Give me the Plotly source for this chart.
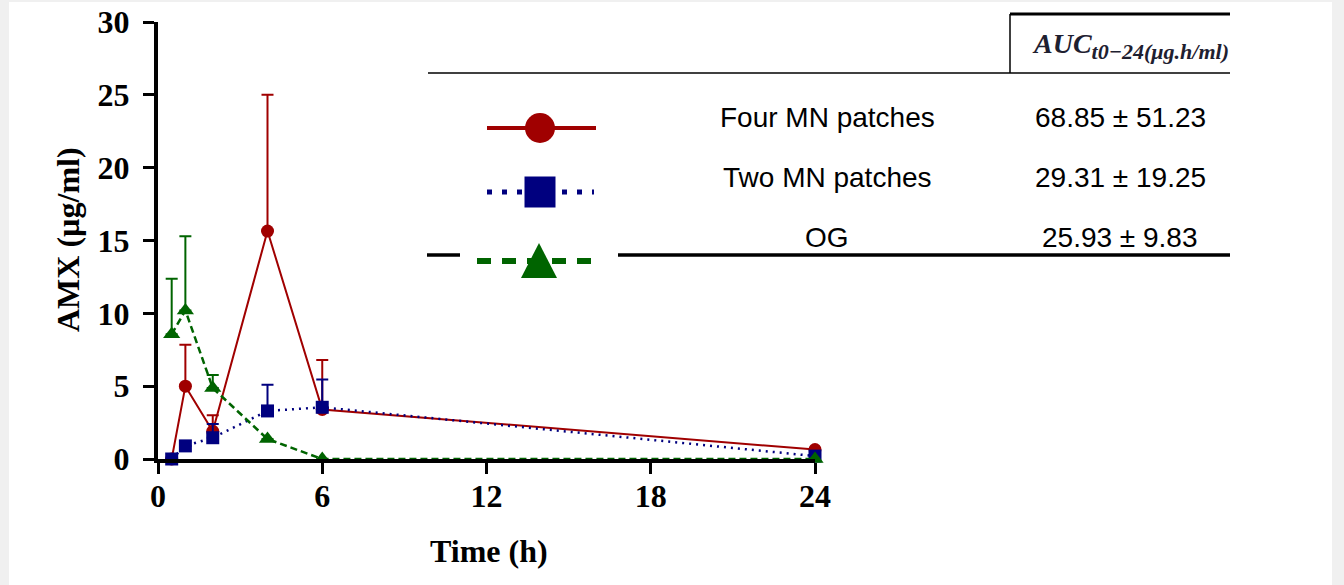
import plotly.graph_objects as go

# ---------------- data ----------------
time_h = [0.5, 1, 2, 4, 6, 24]

four_mn_mean = [0.0, 5.0, 1.9, 15.65, 3.4, 0.65]
four_mn_err = [0.0, 2.85, 1.1, 9.35, 3.4, 0.0]

two_mn_mean = [0.0, 0.9, 1.46, 3.3, 3.55, 0.2]
two_mn_err = [0.0, 0.0, 0.95, 1.8, 1.9, 0.0]

og_mean = [8.57, 10.2, 4.87, 1.37, 0.0, 0.0]
og_err = [3.8, 5.1, 0.9, 0.0, 0.0, 0.0]

x_ticks = [0, 6, 12, 18, 24]
y_ticks = [0, 5, 10, 15, 20, 25, 30]

group_names = ["Four MN patches", "Two MN patches", "OG"]
auc_values = ["68.85 ± 51.23", "29.31 ± 19.25", "25.93 ± 9.83"]
auc_header = ("<b><i>AUC</i></b><sub><span style=\"font-size:22px\"><b><i>t0−24(μg.h/ml)"
              "</i></b></span></sub>")

RED = "#a00000"
BLUE = "#00007f"
GREEN = "#006400"

W, H = 1344, 585
# plot area in pixels
PX_L, PX_R, PX_T, PX_B = 158, 815, 22, 459

SERIF = "Liberation Serif"
SANS = "Liberation Sans"

fig = go.Figure()

def err(arr):
    return dict(type="data", array=arr, arrayminus=[0] * len(arr), symmetric=False,
                thickness=2, width=6)

fig.add_trace(go.Scatter(
    x=time_h, y=four_mn_mean, mode="lines+markers", name=group_names[0],
    line=dict(color=RED, width=2),
    marker=dict(symbol="circle", size=13, color=RED),
    error_y={**err(four_mn_err), "color": RED},
    cliponaxis=False, showlegend=False))

fig.add_trace(go.Scatter(
    x=time_h, y=two_mn_mean, mode="lines+markers", name=group_names[1],
    line=dict(color=BLUE, width=2.5, dash="2px,5px"),
    marker=dict(symbol="square", size=13, color=BLUE),
    error_y={**err(two_mn_err), "color": BLUE},
    cliponaxis=False, showlegend=False))

fig.add_trace(go.Scatter(
    x=time_h, y=og_mean, mode="lines+markers", name=group_names[2],
    line=dict(color=GREEN, width=2.5, dash="7px,4px"),
    marker=dict(symbol="triangle-up", size=15, color=GREEN),
    error_y={**err(og_err), "color": GREEN},
    cliponaxis=False, showlegend=False))

# ---------- table legend symbols (pixel overlay axes x2/y2) ----------
leg_rows_y = [128, 192, 261]
fig.add_trace(go.Scatter(x=[487, 596], y=[leg_rows_y[0]] * 2, mode="lines",
                         line=dict(color=RED, width=4), xaxis="x2", yaxis="y2",
                         showlegend=False, hoverinfo="skip"))
fig.add_trace(go.Scatter(x=[540], y=[leg_rows_y[0]], mode="markers",
                         marker=dict(symbol="circle", size=30, color=RED),
                         xaxis="x2", yaxis="y2", showlegend=False, hoverinfo="skip"))
fig.add_trace(go.Scatter(x=[487, 594], y=[leg_rows_y[1]] * 2, mode="lines",
                         line=dict(color=BLUE, width=5, dash="5px,10px"), xaxis="x2", yaxis="y2",
                         showlegend=False, hoverinfo="skip"))
fig.add_trace(go.Scatter(x=[540], y=[leg_rows_y[1]], mode="markers",
                         marker=dict(symbol="square", size=31, color=BLUE),
                         xaxis="x2", yaxis="y2", showlegend=False, hoverinfo="skip"))
fig.add_trace(go.Scatter(x=[477, 600], y=[leg_rows_y[2]] * 2, mode="lines",
                         line=dict(color=GREEN, width=6, dash="14px,11px"), xaxis="x2", yaxis="y2",
                         showlegend=False, hoverinfo="skip"))

shapes = [
    # white page over grey frame
    dict(type="rect", xref="paper", yref="paper", x0=9 / W, x1=1332 / W, y0=0, y1=1 - 2 / H,
         fillcolor="white", line=dict(width=0), layer="below"),
    # green triangle of legend
    dict(type="path", xref="x2", yref="y2", path="M 521 278 L 557 278 L 539 243 Z",
         fillcolor=GREEN, line=dict(width=0)),
    # table rules
    dict(type="line", xref="x2", yref="y2", x0=1010, x1=1230, y0=14, y1=14,
         line=dict(color="black", width=3)),
    dict(type="line", xref="x2", yref="y2", x0=1010, x1=1010, y0=14, y1=73,
         line=dict(color="black", width=1.5)),
    dict(type="line", xref="x2", yref="y2", x0=428, x1=1230, y0=73, y1=73,
         line=dict(color="black", width=1.5)),
    dict(type="line", xref="x2", yref="y2", x0=427, x1=460, y0=255, y1=255,
         line=dict(color="black", width=3.5)),
    dict(type="line", xref="x2", yref="y2", x0=618, x1=1230, y0=255, y1=255,
         line=dict(color="black", width=3.5)),
]

annotations = []
text_rows_y = [117, 177, 237]
for name, val, yy in zip(group_names, auc_values, text_rows_y):
    annotations.append(dict(x=827, y=yy, xref="x2", yref="y2", text=name, showarrow=False,
                            xanchor="center", yanchor="middle",
                            font=dict(family=SANS, size=28, color="black")))
    annotations.append(dict(x=1120, y=yy, xref="x2", yref="y2", text=val, showarrow=False,
                            xanchor="center", yanchor="middle",
                            font=dict(family=SANS, size=28, color="black")))
annotations.append(dict(x=1130, y=46, xref="x2", yref="y2", text=auc_header, showarrow=False,
                        xanchor="center", yanchor="middle",
                        font=dict(family=SERIF, size=28, color="#1e2030")))
# axis titles
annotations.append(dict(x=68, y=240, xref="x2", yref="y2", text="<b>AMX (µg/ml)</b>",
                        showarrow=False, textangle=-90, xanchor="center", yanchor="middle",
                        font=dict(family=SERIF, size=32, color="black")))
annotations.append(dict(x=489, y=551, xref="x2", yref="y2", text="<b>Time (h)</b>",
                        showarrow=False, xanchor="center", yanchor="middle",
                        font=dict(family=SERIF, size=32, color="black")))

tickfont = dict(family=SERIF, size=32, color="black", weight="bold")

fig.update_layout(
    width=W, height=H, autosize=False,
    margin=dict(l=0, r=0, t=0, b=0, pad=0, autoexpand=False),
    paper_bgcolor="#f0f0f0",
    plot_bgcolor="rgba(0,0,0,0)",
    xaxis=dict(domain=[PX_L / W, PX_R / W], range=[0, 24], tickvals=x_ticks,
               showline=True, linecolor="black", linewidth=4, ticks="outside",
               ticklen=11, tickwidth=3, tickcolor="black", showgrid=False, zeroline=False,
               tickfont=tickfont, ticklabelstandoff=-5, anchor="y", automargin=False),
    yaxis=dict(domain=[1 - PX_B / H, 1 - PX_T / H], range=[0, 30], tickvals=y_ticks,
               showline=True, linecolor="black", linewidth=4, ticks="outside",
               ticklen=11, tickwidth=3, tickcolor="black", showgrid=False, zeroline=False,
               tickfont=tickfont, ticklabelstandoff=7, anchor="x", automargin=False),
    xaxis2=dict(domain=[0, 1], range=[0, W], visible=False, anchor="y2", fixedrange=True,
                automargin=False),
    yaxis2=dict(domain=[0, 1], range=[H, 0], visible=False, anchor="x2", fixedrange=True,
                automargin=False),
    shapes=shapes,
    annotations=annotations,
    showlegend=False,
)

fig.write_html(
    "out.html",
    config={"displayModeBar": False},
    post_script="document.body.style.margin='0';document.body.style.padding='0';"
                "document.body.style.overflow='hidden';",
)
